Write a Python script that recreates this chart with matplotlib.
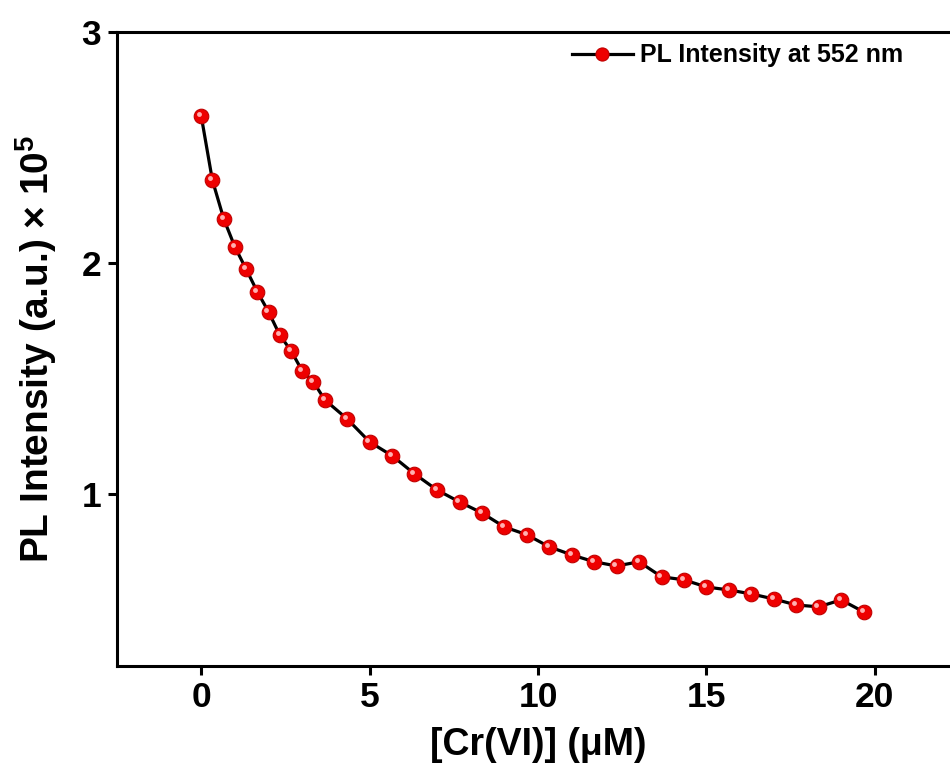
import numpy as np
import matplotlib
matplotlib.use('Agg')
import matplotlib.pyplot as plt
import matplotlib.transforms as mtransforms

plt.rcParams['font.family'] = ['Liberation Sans', 'DejaVu Sans']
plt.rcParams['font.weight'] = 'bold'
plt.rcParams['mathtext.fontset'] = 'custom'
plt.rcParams['mathtext.rm'] = 'Liberation Sans'
plt.rcParams['mathtext.bf'] = 'Liberation Sans:bold'

# Cr(VI) concentration (uM)
conc = [0, 0.33, 0.67, 1, 1.33, 1.67, 2, 2.33, 2.67, 3, 3.33, 3.67,
        4.33, 5, 5.67, 6.33, 7, 7.67, 8.33, 9, 9.67, 10.33, 11, 11.67,
        12.33, 13, 13.67, 14.33, 15, 15.67, 16.33, 17, 17.67, 18.33, 19, 19.67]
# PL intensity at 552 nm (x 1e5)
intensity = [2.636, 2.359, 2.190, 2.069, 1.974, 1.874, 1.788, 1.688, 1.619, 1.532, 1.485, 1.407,
             1.325, 1.225, 1.165, 1.087, 1.017, 0.965, 0.918, 0.857, 0.823, 0.771, 0.736, 0.706,
             0.688, 0.706, 0.641, 0.628, 0.597, 0.584, 0.567, 0.545, 0.519, 0.511, 0.541, 0.489]

fig = plt.figure(figsize=(9.5, 7.76), dpi=100)
ax = fig.add_axes([0.1232, 0.1418, 1.0095 - 0.1232, 0.9588 - 0.1418])

ax.plot(conc, intensity, color='black', lw=2.3, marker='o', ms=10.5,
        mfc='#ee0000', mec='#c00000', mew=0.8, label='PL Intensity at 552 nm', zorder=3)
# little highlight on each ball
hl = mtransforms.offset_copy(ax.transData, fig=fig, x=-2.2, y=2.2, units='dots')
ax.plot(conc, intensity, ls='none', marker='o', ms=3.5, mfc='#ffb0b0', mec='none',
        transform=hl, zorder=4)

ax.set_xlim(-2.5, 22.5)
ax.set_ylim(0.255, 3)
ax.set_xticks([0, 5, 10, 15, 20])
ax.set_yticks([1, 2, 3])

for s in ax.spines.values():
    s.set_linewidth(2.2)
ax.spines['right'].set_visible(False)
ax.tick_params(direction='out', length=6.5, width=2.2, labelsize=25.5)
ax.tick_params(axis='x', pad=4)
ax.tick_params(axis='y', pad=5)

ax.set_xlabel('[Cr(VI)] (μM)', fontsize=27, fontweight='bold', labelpad=10)
ax.set_ylabel(r'PL Intensity (a.u.) $\times$ 10$^{\mathbf{5}}$', fontsize=28,
              fontweight='bold', labelpad=16)

leg = ax.legend(loc='upper right', bbox_to_anchor=(0.9335, 0.982), frameon=False,
                fontsize=18, handlelength=2.45, handletextpad=0.28,
                borderaxespad=0, borderpad=0, markerscale=0.9)

fig.savefig('out.png', dpi=100)
